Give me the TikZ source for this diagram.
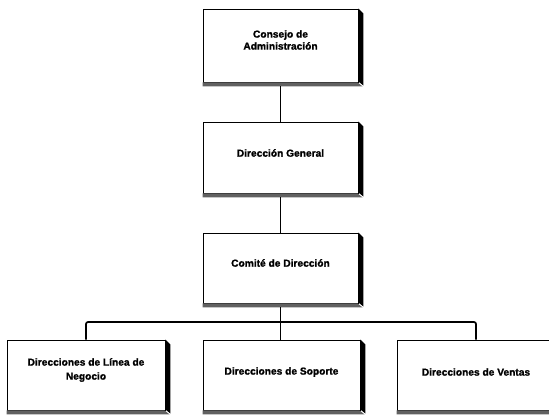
\documentclass[tikz,border=0pt]{standalone}
\usepackage{fontspec}
\setmainfont{Liberation Sans}[BoldFont={Liberation Sans Bold},BoldFeatures={FakeBold=1.2}]
\begin{document}
\begin{tikzpicture}[x=1bp,y=-1bp,
  orgbox/.style={draw=black,line width=0.9bp,fill=white,rectangle,inner sep=0pt},
  orgtext/.style={font=\fontsize{10.2bp}{12bp}\selectfont\bfseries,align=center,inner sep=0pt},
  conn/.style={draw=black,line width=1.7bp,rounded corners=2bp},
  sideshade/.style={fill=black},
  baseshade/.style={fill=black!62}]
\useasboundingbox (0,0) rectangle (549,414);
\fill[white] (0,0) rectangle (549,414);

\node[orgbox,minimum width=155bp,minimum height=73bp] (consejo) at (280.5,45.5) {};
\node[orgbox,minimum width=155bp,minimum height=71bp] (general) at (280.5,157.5) {};
\node[orgbox,minimum width=155bp,minimum height=70bp] (comite) at (280.5,268) {};
\node[orgbox,minimum width=158bp,minimum height=70bp] (linea) at (86,375) {};
\node[orgbox,minimum width=157bp,minimum height=70bp] (soporte) at (281.5,375) {};
\node[orgbox,minimum width=158bp,minimum height=70bp] (ventas) at (476,375) {};

\foreach \bx/\w/\h in {consejo/155/73,general/155/71,comite/155/70,linea/158/70,soporte/157/70,ventas/158/70}{
  \fill[baseshade] (\bx.south west) -- ++(\w,0) -- ++(5,4) -- ++(-\w-5,0) -- cycle;
  \fill[sideshade] (\bx.north east) -- ++(5,5) -- ++(0,\h-1) -- ++(-5,-4) -- cycle;
}

\node[orgtext] (tconsejo) at ([yshift=5.5bp]consejo.center) {Consejo de\\Administración};
\node[orgtext] (tgeneral) at ([yshift=4.5bp]general.center) {Dirección General};
\node[orgtext] (tcomite) at ([yshift=5bp]comite.center) {Comité de Dirección};
\node[orgtext,font=\fontsize{10.2bp}{14bp}\selectfont\bfseries] (tlinea) at ([yshift=5bp]linea.center) {Direcciones de Línea de\\Negocio};
\node[orgtext] (tsoporte) at ([yshift=3bp]soporte.center) {Direcciones de Soporte};
\node[orgtext] (tventas) at ([yshift=3bp]ventas.center) {Direcciones de Ventas};

% connectors
\coordinate (bus) at (280.5,322);
\draw[conn] (consejo.south) ++(0,4) -- (general.north);
\draw[conn] (general.south) ++(0,4) -- (comite.north);
\draw[conn] (comite.south) ++(0,4) -- (bus);
\draw[conn] (linea.north) |- (bus);
\draw[conn] (ventas.north) |- (bus);
\draw[conn] (bus) -- (bus |- soporte.north);
\end{tikzpicture}
\end{document}
